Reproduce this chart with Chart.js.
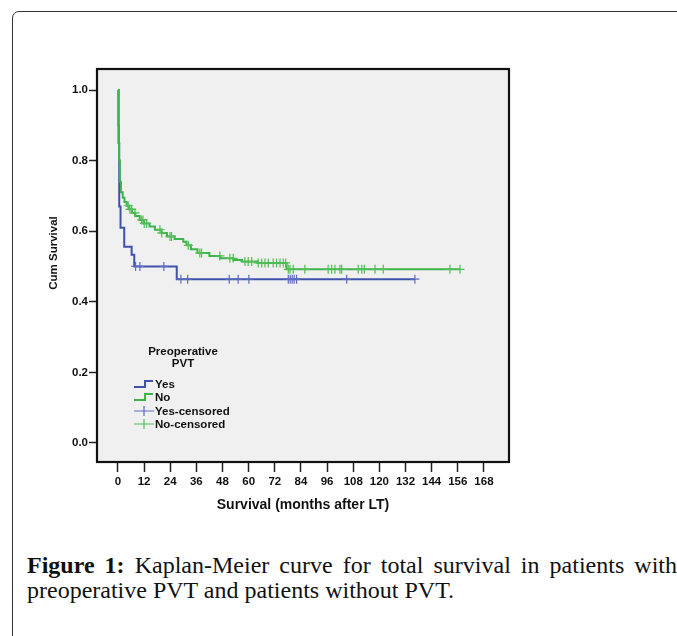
<!DOCTYPE html>
<html>
<head>
<meta charset="utf-8">
<script src="https://cdn.jsdelivr.net/npm/chart.js@4.4.1/dist/chart.umd.min.js"></script>
<style>
  html, body { margin: 0; padding: 0; background: #fff; overflow: hidden; }
  body { width: 677px; height: 636px; position: relative; }
  #card {
    position: absolute; left: 12px; top: 11px; width: 720px; height: 700px;
    border: 1.5px solid #333; border-radius: 7px; box-sizing: border-box;
  }
  #wrap { position: absolute; left: 0; top: 0; width: 677px; height: 530px; }
  #caption {
    position: absolute; left: 27px; top: 553px; width: 650px;
    font-family: "Liberation Serif", "Times New Roman", serif;
    font-size: 24px; line-height: 25px; color: #111;
    text-align: justify;
  }
  #caption b { font-weight: bold; }
</style>
</head>
<body>
<div id="card"></div>
<div id="wrap"><canvas id="kmChart"></canvas></div>
<div id="caption"><b>Figure 1:</b> Kaplan-Meier curve for total survival in patients with preoperative PVT and patients without PVT.</div>

<script>
// step curves: time (months) where survival drops, and the survival after the drop
const noTimes = [0, 0.2, 0.5, 0.9, 1.4, 2.2, 3.0, 4.0, 5.0, 6.5, 8.0, 10.0, 12.0, 14.5, 17.0, 20.0, 22.5, 26.0, 30.0, 31.5, 33.5, 36.5, 42.0, 47.0, 53.0, 57.0, 64.0, 77.4];
const noSurv  = [1.0, 0.90, 0.80, 0.74, 0.71, 0.695, 0.683, 0.672, 0.662, 0.652, 0.643, 0.632, 0.622, 0.613, 0.604, 0.595, 0.585, 0.578, 0.570, 0.560, 0.549, 0.538, 0.530, 0.523, 0.518, 0.514, 0.510, 0.492];
const noEnd = 157;

const yesTimes = [0, 0.3, 0.6, 1.2, 2.9, 6.3, 7.5, 27];
const yesSurv  = [1.0, 0.85, 0.67, 0.61, 0.556, 0.533, 0.50, 0.464];
const yesEnd = 136.3;

// censored observations (months)
const noCensored = [4.7, 5.5, 6.3, 7.8, 10.9, 11.5, 12.1, 13.2, 19.3, 20.1, 23.9, 24.6, 32.3, 37.6, 38.4, 46.8, 51.4, 52.9, 58.3, 59.8, 61.4, 64.4, 66.0, 67.5, 69.0, 71.3, 72.8, 74.4, 75.9, 77.0, 78.2, 79.0, 80.5, 85.8, 96.5, 98.1, 99.6, 101.9, 102.7, 110.3, 111.9, 113.1, 118.0, 121.8, 152.4, 157.0];
const yesCensored = [8.1, 10.1, 21.1, 28.9, 32.0, 51.1, 55.2, 60.1, 78.2, 79.1, 80.0, 80.9, 82.0, 105.0, 136.3];

const xTicks = [0, 12, 24, 36, 48, 60, 72, 84, 96, 108, 120, 132, 144, 156, 168];
const yTicks = [0.0, 0.2, 0.4, 0.6, 0.8, 1.0];

const BLUE = '#3f51a8';
const GREEN = '#3cb44a';
const BLUE_C = '#5d6cc0';
const GREEN_C = '#4fbf55';
const FONT = '"Liberation Sans", Arial, sans-serif';

function stepPoints(times, surv, end) {
  const pts = times.map((t, i) => ({ x: t, y: surv[i] }));
  pts.push({ x: end, y: surv[surv.length - 1] });
  return pts;
}

function survAt(times, surv, t) {
  let s = surv[0];
  times.forEach((tt, i) => { if (tt <= t) s = surv[i]; });
  return s;
}

const censorPts = (cens, times, surv) => cens.map(t => ({ x: t, y: survAt(times, surv, t) }));

const framePlugin = {
  id: 'frame',
  beforeDraw(chart) {
    const { ctx, chartArea: a } = chart;
    ctx.save();
    ctx.fillStyle = '#f0f0f0';
    ctx.fillRect(a.left, a.top, a.right - a.left, a.bottom - a.top);
    ctx.restore();
  },
  afterDraw(chart) {
    const { ctx, chartArea: a } = chart;
    ctx.save();
    ctx.strokeStyle = '#111';
    ctx.lineWidth = 2.2;
    ctx.strokeRect(a.left, a.top, a.right - a.left, a.bottom - a.top);

    // axis titles
    ctx.fillStyle = '#111';
    ctx.textAlign = 'center';
    ctx.textBaseline = 'middle';
    ctx.font = 'bold 14px ' + FONT;
    ctx.fillText('Survival (months after LT)', (a.left + a.right) / 2, 505);
    ctx.save();
    ctx.translate(54, 253);
    ctx.rotate(-Math.PI / 2);
    ctx.font = 'bold 11.5px ' + FONT;
    ctx.fillText('Cum Survival', 0, 0);
    ctx.restore();

    // legend
    ctx.font = 'bold 11.5px ' + FONT;
    ctx.fillText('Preoperative', 183, 352);
    ctx.fillText('PVT', 183, 364);
    ctx.textAlign = 'left';
    const rows = [
      { label: 'Yes', color: BLUE, step: true, y: 384 },
      { label: 'No', color: GREEN, step: true, y: 397 },
      { label: 'Yes-censored', color: BLUE_C, step: false, y: 411 },
      { label: 'No-censored', color: GREEN_C, step: false, y: 424 }
    ];
    rows.forEach(r => {
      ctx.strokeStyle = r.color;
      ctx.beginPath();
      if (r.step) {
        ctx.lineWidth = 2;
        ctx.moveTo(134, r.y + 3);
        ctx.lineTo(145, r.y + 3);
        ctx.lineTo(145, r.y - 3);
        ctx.lineTo(153, r.y - 3);
      } else {
        ctx.lineWidth = 1.2;
        ctx.moveTo(134, r.y);
        ctx.lineTo(154, r.y);
        ctx.moveTo(144, r.y - 5);
        ctx.lineTo(144, r.y + 5);
      }
      ctx.stroke();
      ctx.fillStyle = '#111';
      ctx.fillText(r.label, 155, r.y + 0.5);
    });
    ctx.restore();
  }
};

new Chart(document.getElementById('kmChart'), {
  type: 'scatter',
  data: {
    datasets: [
      {
        label: 'No-censored',
        data: censorPts(noCensored, noTimes, noSurv),
        pointStyle: 'cross',
        radius: 4.5,
        borderColor: GREEN_C,
        borderWidth: 1.2,
        showLine: false
      },
      {
        label: 'No',
        data: stepPoints(noTimes, noSurv, noEnd),
        showLine: true,
        stepped: 'before',
        borderColor: GREEN,
        borderWidth: 2,
        pointRadius: 0,
        fill: false
      },
      {
        label: 'Yes-censored',
        data: censorPts(yesCensored, yesTimes, yesSurv),
        pointStyle: 'cross',
        radius: 4.5,
        borderColor: BLUE_C,
        borderWidth: 1.2,
        showLine: false
      },
      {
        label: 'Yes',
        data: stepPoints(yesTimes, yesSurv, yesEnd),
        showLine: true,
        stepped: 'before',
        borderColor: BLUE,
        borderWidth: 2,
        pointRadius: 0,
        fill: false
      }
    ]
  },
  options: {
    responsive: true,
    maintainAspectRatio: false,
    animation: false,
    layout: { padding: { left: 40, top: 69, right: 168, bottom: 28 } },
    plugins: {
      legend: { display: false },
      tooltip: { enabled: false }
    },
    scales: {
      x: {
        type: 'linear',
        min: -9.6,
        max: 179.5,
        afterBuildTicks: s => { s.ticks = xTicks.map(v => ({ value: v })); },
        afterFit: s => { s.height = 40; },
        border: { display: false },
        grid: { drawOnChartArea: false, drawTicks: true, tickLength: 10, tickColor: '#222', tickWidth: 1.5 },
        ticks: { color: '#111', font: { family: FONT, size: 11.5, weight: 'bold' }, padding: 3, maxRotation: 0, autoSkip: false }
      },
      y: {
        type: 'linear',
        min: -0.054,
        max: 1.0595,
        afterBuildTicks: s => { s.ticks = yTicks.map(v => ({ value: v })); },
        afterFit: s => { s.width = 57; },
        border: { display: false },
        grid: { drawOnChartArea: false, drawTicks: true, tickLength: 8, tickColor: '#222', tickWidth: 1.5 },
        ticks: { color: '#111', font: { family: FONT, size: 11.5, weight: 'bold' }, padding: 1, callback: v => Number(v).toFixed(1) }
      }
    }
  },
  plugins: [framePlugin]
});
</script>
</body>
</html>
